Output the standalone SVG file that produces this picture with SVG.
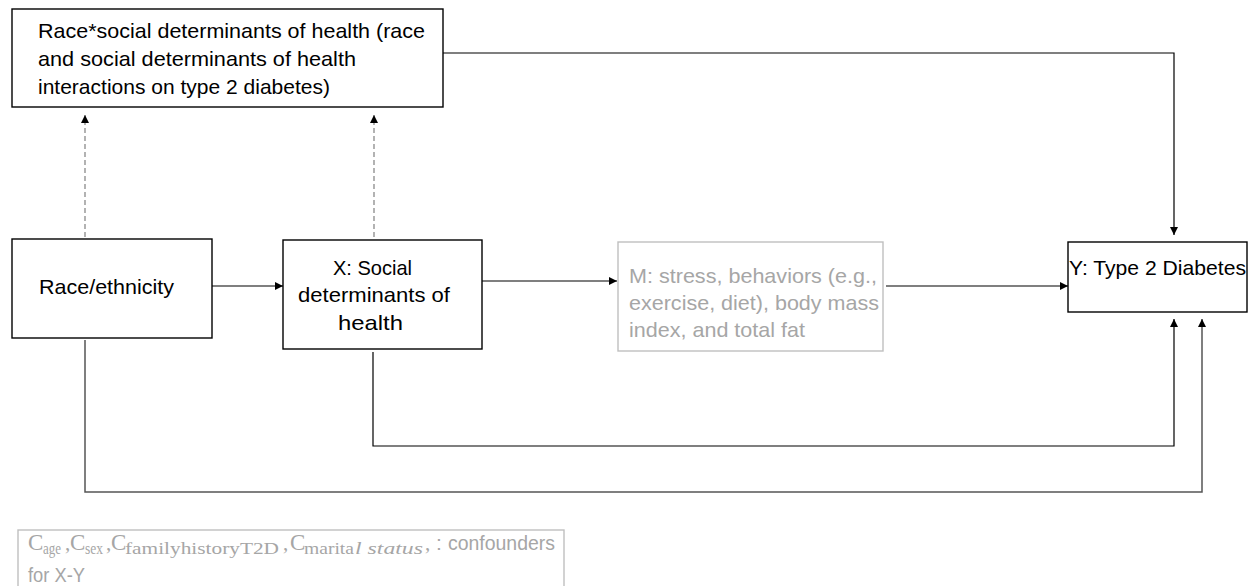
<svg xmlns="http://www.w3.org/2000/svg" width="1251" height="586" viewBox="0 0 1251 586">
<defs>
<marker id="ah" viewBox="0 0 10 10" refX="10" refY="5" markerWidth="8" markerHeight="8" markerUnits="userSpaceOnUse" orient="auto">
<path d="M0,0 L10,5 L0,10 z" fill="#000"/>
</marker>
<style>
.box{fill:#fff;stroke:#000;stroke-width:1.4}
.gbox{fill:#fff;stroke:#bfbfbf;stroke-width:1.4}
.t{font-family:"Liberation Sans",Arial,sans-serif;font-size:21px;fill:#000}
.g{fill:#a6a6a6}
.m{font-family:"Liberation Serif","Times New Roman",serif;fill:#a6a6a6}
.c{stroke:#000;stroke-width:1.2;fill:none}
.d{stroke:#808080;stroke-width:1.2;fill:none;stroke-dasharray:5,3}
</style>
</defs>
<g id="connectors">
<path class="d" d="M85,237 V115" marker-end="url(#ah)"/>
<path class="d" d="M374,237 V115" marker-end="url(#ah)"/>
<path class="c" d="M212,286 H283" marker-end="url(#ah)"/>
<path class="c" d="M482,281 H617" marker-end="url(#ah)"/>
<path class="c" d="M886,286 H1068" marker-end="url(#ah)"/>
<path class="c" d="M443,53 H1174 V235" marker-end="url(#ah)"/>
<path class="c" d="M373,352 V446 H1174 V319" marker-end="url(#ah)"/>
<path class="c" d="M85,340 V492 H1202 V319" style="stroke:#555;stroke-width:1.5" marker-end="url(#ah)"/>
</g>
<g id="interaction">
<rect class="box" x="12" y="9" width="431" height="98"/>
<text class="t" x="38" y="38" textLength="387" lengthAdjust="spacingAndGlyphs">Race*social determinants of health (race</text>
<text class="t" x="38" y="66" textLength="318" lengthAdjust="spacingAndGlyphs">and social determinants of health</text>
<text class="t" x="38" y="94" textLength="292" lengthAdjust="spacingAndGlyphs">interactions on type 2 diabetes)</text>
</g>
<g id="race">
<rect class="box" x="12" y="239" width="200" height="99"/>
<text class="t" x="39" y="294" textLength="135" lengthAdjust="spacingAndGlyphs">Race/ethnicity</text>
</g>
<g id="x">
<rect class="box" x="283" y="240" width="199" height="109"/>
<text class="t" x="333" y="275" textLength="79" lengthAdjust="spacingAndGlyphs">X: Social</text>
<text class="t" x="298" y="302" textLength="152" lengthAdjust="spacingAndGlyphs">determinants of</text>
<text class="t" x="338" y="330" textLength="65" lengthAdjust="spacingAndGlyphs">health</text>
</g>
<g id="m">
<rect class="gbox" x="618" y="242" width="265" height="109"/>
<text class="t g" x="629" y="283" textLength="248" lengthAdjust="spacingAndGlyphs">M: stress, behaviors (e.g.,</text>
<text class="t g" x="629" y="310" textLength="250" lengthAdjust="spacingAndGlyphs">exercise, diet), body mass</text>
<text class="t g" x="629" y="337" textLength="176" lengthAdjust="spacingAndGlyphs">index, and total fat</text>
</g>
<g id="y">
<rect class="box" x="1068" y="242" width="179" height="70"/>
<text class="t" x="1069" y="275" textLength="177" lengthAdjust="spacingAndGlyphs">Y: Type 2 Diabetes</text>
</g>
<g id="confounders">
<rect class="gbox" x="18" y="530" width="546" height="70"/>
<text class="m" font-size="23" x="28" y="550">C</text>
<text class="m" font-size="17" x="43" y="554" textLength="18" lengthAdjust="spacingAndGlyphs">age</text>
<text class="m" font-size="21" x="65" y="550">,</text>
<text class="m" font-size="23" x="70" y="550">C</text>
<text class="m" font-size="17" x="85" y="554" textLength="18" lengthAdjust="spacingAndGlyphs">sex</text>
<text class="m" font-size="21" x="106" y="550">,</text>
<text class="m" font-size="23" x="111" y="550">C</text>
<text class="m" font-size="17" x="125" y="554" textLength="154" lengthAdjust="spacingAndGlyphs">familyhistoryT2D</text>
<text class="m" font-size="21" x="283" y="550">,</text>
<text class="m" font-size="23" x="290" y="550">C</text>
<text class="m" font-size="17" x="304" y="554" textLength="50" lengthAdjust="spacingAndGlyphs">marita</text>
<text class="m" font-size="17" font-style="italic" x="355" y="554" textLength="68" lengthAdjust="spacingAndGlyphs">l status</text>
<text class="m" font-size="21" x="425" y="550">,</text>
<text class="t g" x="436" y="550">:</text>
<text class="t g" x="448" y="550" textLength="107" lengthAdjust="spacingAndGlyphs">confounders</text>
<text class="t g" x="28" y="582" textLength="57" lengthAdjust="spacingAndGlyphs">for X-Y</text>
</g>
</svg>
